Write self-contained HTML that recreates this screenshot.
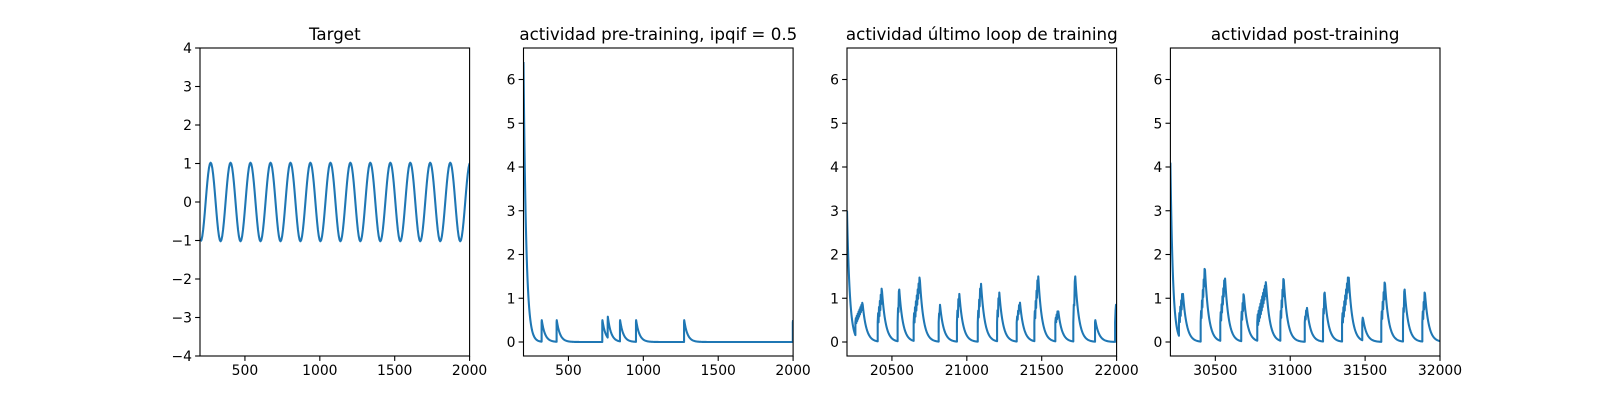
<!DOCTYPE html>
<html><head><meta charset="utf-8"><style>
html,body{margin:0;padding:0;background:#fff}
svg{display:block}
text{font-family:"DejaVu Sans","Liberation Sans",sans-serif;fill:#000}
</style></head><body>
<svg id="fig" width="1600" height="400" xmlns="http://www.w3.org/2000/svg"></svg>
<script>
// ---- data ----
const targetPeakTimes = [271, 404, 537, 671, 804, 937, 1071, 1204, 1337, 1471, 1604, 1737, 1871, 2004];
const targetAmplitude = [1.02];

const preInitial = [6.4];
const preOnsets = [321, 421, 726, 762, 844, 951, 1272, 1998];
const prePeakTimes = [322, 422, 727, 763, 845, 952, 1273, 2000];
const prePeaks = [0.5, 0.5, 0.5, 0.58, 0.5, 0.5, 0.5, 0.5];

const lastInitial = [3.0];
const lastOnsets = [20256, 20405, 20538, 20645, 20812, 20934, 21073, 21202, 21333, 21451, 21591, 21711, 21856, 21990];
const lastPeakTimes = [20305, 20434, 20549, 20687, 20821, 20950, 21095, 21217, 21355, 21477, 21611, 21724, 21858, 21996];
const lastPeaks = [0.85, 1.15, 1.2, 1.4, 0.85, 1.1, 1.33, 1.13, 0.9, 1.5, 0.7, 1.5, 0.5, 0.85];

const postInitial = [4.1];
const postOnsets = [30257, 30402, 30533, 30673, 30780, 30934, 31097, 31219, 31346, 31481, 31608, 31753, 31882];
const postPeakTimes = [30284, 30431, 30565, 30691, 30840, 30957, 31112, 31230, 31391, 31487, 31633, 31764, 31900];
const postPeaks = [1.1, 1.65, 1.45, 1.05, 1.27, 1.42, 0.78, 1.13, 1.47, 0.52, 1.33, 1.2, 1.1];

const xTicks1 = [500, 1000, 1500, 2000];
const yTicks1 = [-4, -3, -2, -1, 0, 1, 2, 3, 4];
const xTicks3 = [20500, 21000, 21500, 22000];
const xTicks4 = [30500, 31000, 31500, 32000];
const yTicksAct = [0, 1, 2, 3, 4, 5, 6];
const titles = ["Target", "actividad pre-training, ipqif = 0.5", "actividad último loop de training", "actividad post-training"];

// ---- drawing ----
const NS = "http://www.w3.org/2000/svg";
const svg = document.getElementById("fig");
function el(tag, attrs, parent) {
  const e = document.createElementNS(NS, tag);
  for (const k in attrs) e.setAttribute(k, attrs[k]);
  (parent || svg).appendChild(e);
  return e;
}
const TOP = 48, BOT = 356, W = 269.6;
const lefts = [200, 523.5, 847, 1170.4];

function buildTarget() {
  const pts = [];
  const A = targetAmplitude[0];
  const ext = [];
  for (let i = 0; i < targetPeakTimes.length; i++) {
    const p = targetPeakTimes[i];
    const prevP = i > 0 ? targetPeakTimes[i - 1] : p - (targetPeakTimes[1] - targetPeakTimes[0]);
    ext.push([(p + prevP) / 2, -A]);
    ext.push([p, A]);
  }
  for (let i = 0; i < ext.length - 1; i++) {
    const [t0, v0] = ext[i], [t1, v1] = ext[i + 1];
    for (let k = 0; k < 12; k++) {
      const f = k / 12;
      const v = (v0 + v1) / 2 + (v0 - v1) / 2 * Math.cos(Math.PI * f);
      pts.push([t0 + (t1 - t0) * f, v]);
    }
  }
  pts.push(ext[ext.length - 1]);
  return pts;
}

function buildActivity(x0, x1, init, onsets, peakT, peaks, tau0, tau) {
  const pts = [];
  let t = x0, v = init;
  let lastT = x0, lastV = init, curTau = tau0;
  const valAt = (tt) => lastV * Math.exp(-(tt - lastT) / curTau);
  const step = 2;
  for (let i = 0; i <= onsets.length; i++) {
    const end = i < onsets.length ? onsets[i] : x1;
    for (let tt = lastT; tt < end; tt += step) pts.push([tt, valAt(tt)]);
    if (i === onsets.length) { pts.push([x1, valAt(x1)]); break; }
    const base = valAt(end);
    pts.push([end, base]);
    const startV = Math.max(base, Math.min(0.45, peaks[i]));
    const tp = Math.max(peakT[i], end + 1);
    const n = Math.max(1, Math.round((tp - end) / 3));
    for (let k = 0; k <= n; k++) {
      const f = k / n;
      let vv = startV + (peaks[i] - startV) * f;
      if (k > 0 && k < n) vv += (k % 2 ? 0.14 : -0.14) * (peaks[i] > 0.9 ? 1 : 0.5);
      pts.push([end + (tp - end) * f, vv]);
    }
    lastT = tp; lastV = peaks[i]; curTau = tau;
  }
  return pts.filter(p => p[0] <= x1);
}

function panel(idx, xmin, xmax, ymin, ymax, xTicks, yTicks, pts, name) {
  const L = lefts[idx];
  const g = el("g", {});
  
  
  const sx = x => L + (x - xmin) / (xmax - xmin) * W;
  const sy = y => BOT - (y - ymin) / (ymax - ymin) * (BOT - TOP);
  const clipId = "clip" + idx;
  const cp = el("clipPath", { id: clipId }, g);
  el("rect", { x: L, y: TOP, width: W, height: BOT - TOP }, cp);
  const d = pts.map((p, i) => (i ? "L" : "M") + sx(p[0]).toFixed(2) + "," + sy(p[1]).toFixed(2)).join("");
  const path = el("path", { d: d, fill: "none", stroke: "#1f77b4", "stroke-width": 2.08, "stroke-linejoin": "round", "clip-path": "url(#" + clipId + ")" }, g);
  
  
  const frame = el("rect", { x: L, y: TOP, width: W, height: BOT - TOP, fill: "none", stroke: "#000", "stroke-width": 1.1 }, g);
  
  
  xTicks.forEach(t => {
    const x = sx(t);
    el("line", { x1: x, y1: BOT, x2: x, y2: BOT + 4.9, stroke: "#000", "stroke-width": 1.1 }, g);
    const tx = el("text", { x: x, y: BOT + 19, "text-anchor": "middle", "font-size": "13.9px" }, g);
    tx.textContent = t;
    
    
  });
  yTicks.forEach(t => {
    const y = sy(t);
    el("line", { x1: L, y1: y, x2: L - 4.9, y2: y, stroke: "#000", "stroke-width": 1.1 }, g);
    const tx = el("text", { x: L - 8, y: y + 5, "text-anchor": "end", "font-size": "13.9px" }, g);
    tx.textContent = t < 0 ? "\u2212" + (-t) : t;
    
    
  });
  const ti = el("text", { x: L + W / 2, y: TOP - 8, "text-anchor": "middle", "font-size": "16.7px" }, g);
  ti.textContent = titles[idx];
  
  
}

const YMIN = -0.32, YMAX = 6.72;
panel(0, 200, 2000, -4, 4, xTicks1, yTicks1, buildTarget(), "target");
panel(1, 200, 2000, YMIN, YMAX, xTicks1, yTicksAct,
  buildActivity(200, 2000, preInitial[0], preOnsets, prePeakTimes, prePeaks, 18, 22), "pre-training");
panel(2, 20200, 22000, YMIN, YMAX, xTicks3, yTicksAct,
  buildActivity(20200, 22000, lastInitial[0], lastOnsets, lastPeakTimes, lastPeaks, 19, 25), "last-loop-training");
panel(3, 30200, 32000, YMIN, YMAX, xTicks4, yTicksAct,
  buildActivity(30200, 32000, postInitial[0], postOnsets, postPeakTimes, postPeaks, 17, 25), "post-training");
</script>
</body></html>
